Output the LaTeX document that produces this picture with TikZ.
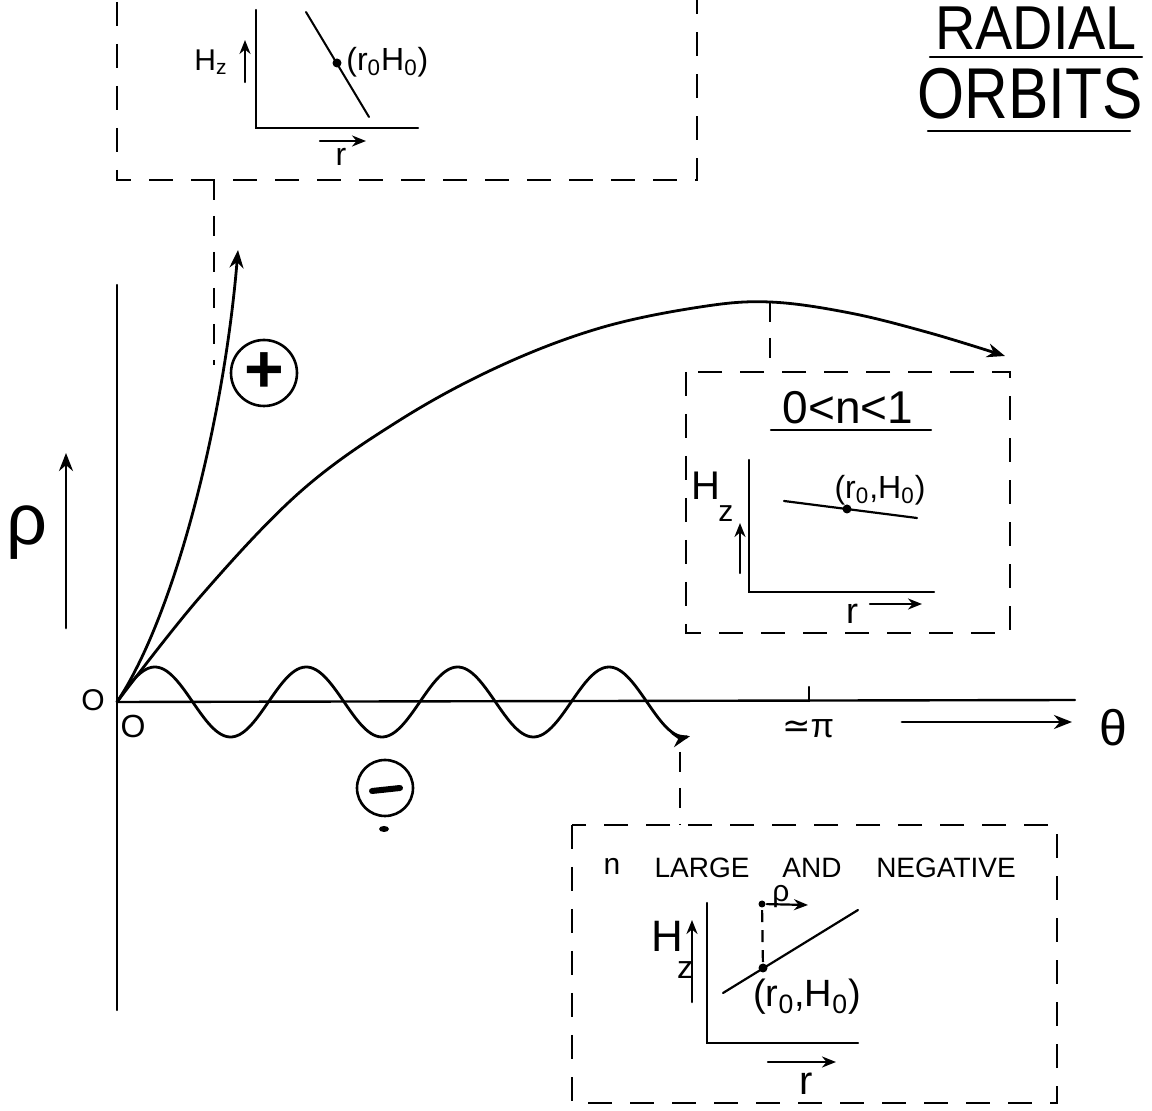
\documentclass[tikz,border=0pt]{standalone}
\usepackage{fontspec}
\setmainfont{Liberation Sans}
\newfontfamily\dvs{DejaVu Sans}
\usetikzlibrary{arrows.meta,shapes.geometric}
\newcommand\mysub[1]{\textsubscript{#1}}
\begin{document}
\begin{tikzpicture}[x=0.5pt,y=-0.5pt, line width=1.4pt, line cap=round,
  box/.style={line width=1.3pt, line cap=butt, dash pattern=on 12pt off 9pt},
  conn/.style={line width=1.3pt, line cap=butt, dash pattern=on 10pt off 8pt},
  arr/.style={-{Stealth[length=9pt,width=7pt]}},
  sarr/.style={-{Stealth[length=7pt,width=5.5pt]}},
  ax/.style={line width=1.2pt},
  lbl/.style={inner sep=0pt},
  dotn/.style={circle, fill, inner sep=0pt, minimum size=4.5pt},
  circ/.style={circle, draw, line width=1.3pt, inner sep=0pt}]
\useasboundingbox (0,0) rectangle (1152,1111);
\clip (0,0) rectangle (1152,1111);

% ---------- title ----------
\node[lbl, anchor=base, xscale=0.9, font=\fontsize{31}{31}\selectfont] (t1) at (1036,50) {RADIAL};
\node[lbl, anchor=base, xscale=0.84, font=\fontsize{36}{36}\selectfont] (t2) at (1030,119) {ORBITS};
\coordinate (u1a) at (930,57); \coordinate (u1b) at (1142,57);
\coordinate (u2a) at (928,131); \coordinate (u2b) at (1130,131);
\draw[line width=1.2pt] (u1a) -- (u1b);
\draw[line width=1.2pt] (u2a) -- (u2b);

% ---------- main axes ----------
\coordinate (O) at (117,702);
\coordinate (yTop) at (117,285);
\coordinate (yBot) at (117,1010);
\coordinate (xEnd) at (1075,700);
\draw[ax] (yTop) -- (yBot);
\draw[ax] (O) -- (xEnd);
\coordinate (piT) at (809,687); \coordinate (piB) at (809,701);
\draw[ax] (piT) -- (piB);
\node[lbl, font=\fontsize{17}{17}\selectfont] (pi) at (808,729) {{\dvs ≃}π};
\coordinate (th1) at (902,722); \coordinate (th2) at (1072,722);
\draw[arr] (th1) -- (th2);
\node[lbl, font=\fontsize{25}{25}\selectfont] (theta) at (1113,728) {θ};
\node[lbl, font=\fontsize{15}{15}\selectfont] (zeroA) at (93,700) {O};
\node[lbl, font=\fontsize{16}{16}\selectfont] (zeroB) at (133,726) {O};
\coordinate (ra1) at (66,628); \coordinate (ra2) at (66,453);
\draw[arr] (ra1) -- (ra2);
\node[lbl, font=\fontsize{36}{36}\selectfont] (rho) at (27,533) {ρ};

% ---------- orbits ----------
\coordinate (plusTip) at (238,250);
\draw[arr] (O) .. controls (175,615) and (224,420) .. (plusTip);
\node[circ, minimum size=33pt] (plus) at (264,373) {};
\node[lbl, font=\bfseries\fontsize{34}{34}\selectfont] (plussign) at (plus) {+};

\coordinate (pk) at (770,302);
\coordinate (mainTip) at (1005,356);
\draw[arr] plot[smooth, tension=0.6] coordinates {(117,702) (200,597) (300,492) (400,420) (500,366) (600,328) (700,307) (770,302) (850,313) (930,333) (mainTip)};

\draw[arr] plot[domain=117:690, samples=220] (\x, {702-35*sin((\x-117)/75.7*180)});
\coordinate (wEnd) at (690,737);
\node[circ, minimum size=28pt] (minus) at (385,788) {};
\coordinate (mA) at (372,791); \coordinate (mB) at (400,788);
\draw[line width=3pt] (mA) -- (mB);
\node[fill, ellipse, inner sep=0pt, minimum width=5pt, minimum height=3pt] (mdot) at (384,829) {};

% ---------- top box ----------
\draw[box] (117,-40) rectangle (697,180);
\coordinate (tbB) at (214,180); \coordinate (tbE) at (214,365);
\draw[conn] (tbB) -- (tbE);
\coordinate (a1t) at (256,10); \coordinate (a1o) at (256,128); \coordinate (a1r) at (418,128);
\draw[ax] (a1t) -- (a1o) -- (a1r);
\coordinate (d1a) at (306,12); \coordinate (d1b) at (369,117);
\draw[line width=1pt] (d1a) -- (d1b);
\node[dotn] (p1) at (337,63) {};
\node[lbl, anchor=west, font=\fontsize{16}{16}\selectfont] (l1) at (345,62) {(r\mysub{0}H\mysub{0})};
\node[lbl, font=\fontsize{15}{15}\selectfont] (hz1) at (211,62) {H\mysub{z}};
\coordinate (h1a) at (245,82); \coordinate (h1b) at (245,40);
\draw[sarr, line width=1.1pt] (h1a) -- (h1b);
\coordinate (r1a) at (320,141); \coordinate (r1b) at (366,141);
\draw[sarr, line width=1.1pt] (r1a) -- (r1b);
\node[lbl, font=\fontsize{16}{16}\selectfont] (r1) at (341,157) {r};

% ---------- middle box ----------
\coordinate (mbT) at (770,372);
\draw[conn] (pk) -- (mbT);
\draw[box] (686,372) rectangle (1010,633);
\node[lbl, font=\fontsize{23}{23}\selectfont] (n1) at (848,408) {0<n<1};
\coordinate (u3a) at (771,430); \coordinate (u3b) at (931,430);
\draw[line width=1.1pt] (u3a) -- (u3b);
\coordinate (a2t) at (749,460); \coordinate (a2o) at (749,592); \coordinate (a2r) at (934,592);
\draw[ax] (a2t) -- (a2o) -- (a2r);
\coordinate (d2a) at (784,501); \coordinate (d2b) at (917,518);
\draw[line width=1.1pt] (d2a) -- (d2b);
\node[dotn] (p2) at (847,509) {};
\node[lbl, font=\fontsize{16}{16}\selectfont] (l2) at (880,490) {(r\mysub{0},H\mysub{0})};
\node[lbl, anchor=base west, font=\fontsize{20}{20}\selectfont] (hz2) at (690,500) {H\kern-1pt\raisebox{-0.55em}{\fontsize{15}{15}\selectfont z}};
\coordinate (h2a) at (740,573); \coordinate (h2b) at (740,523);
\draw[sarr, line width=1.2pt] (h2a) -- (h2b);
\coordinate (r2a) at (870,604); \coordinate (r2b) at (922,604);
\draw[sarr, line width=1.1pt] (r2a) -- (r2b);
\node[lbl, font=\fontsize{18}{18}\selectfont] (r2) at (852,614) {r};

% ---------- bottom box ----------
\coordinate (wc) at (680,752); \coordinate (bbT) at (680,825);
\draw[conn] (wc) -- (bbT);
\draw[box] (572,825) rectangle (1057,1103);
\node[lbl, font=\fontsize{15}{15}\selectfont] (bw1) at (612,866) {n};
\node[lbl, font=\fontsize{14}{14}\selectfont] (bw2) at (702,868) {LARGE};
\node[lbl, font=\fontsize{14}{14}\selectfont] (bw3) at (812,868) {AND};
\node[lbl, font=\fontsize{14}{14}\selectfont] (bw4) at (946,868) {NEGATIVE};
\coordinate (a3t) at (707,903); \coordinate (a3o) at (707,1043); \coordinate (a3r) at (858,1043);
\draw[ax] (a3t) -- (a3o) -- (a3r);
\coordinate (d3a) at (723,993); \coordinate (d3b) at (858,910);
\draw[line width=1.1pt] (d3a) -- (d3b);
\node[dotn] (p3) at (763,968) {};
\node[dotn, minimum size=3.5pt] (p4) at (762,904) {};
\draw[line width=1.1pt, line cap=butt, dash pattern=on 6pt off 4pt] (p3) -- (p4);
\coordinate (e1) at (808,905);
\draw[sarr, line width=1.1pt] (p4) -- (e1);
\node[lbl, font=\fontsize{15}{15}\selectfont] (rho2) at (781,897) {ρ};
\node[lbl, font=\fontsize{19}{19}\selectfont] (l3) at (807,997) {(r\mysub{0},H\mysub{0})};
\node[lbl, anchor=base west, font=\fontsize{22}{22}\selectfont] (hz3) at (650,952) {H\kern-3pt\raisebox{-0.6em}{\fontsize{16}{16}\selectfont z}};
\coordinate (h3a) at (692,1002); \coordinate (h3b) at (692,920);
\draw[sarr, line width=1.3pt] (h3a) -- (h3b);
\coordinate (r3a) at (768,1062); \coordinate (r3b) at (836,1062);
\draw[sarr, line width=1.2pt] (r3a) -- (r3b);
\node[lbl, font=\fontsize{20}{20}\selectfont] (r3) at (806,1084) {r};
\end{tikzpicture}
\end{document}
